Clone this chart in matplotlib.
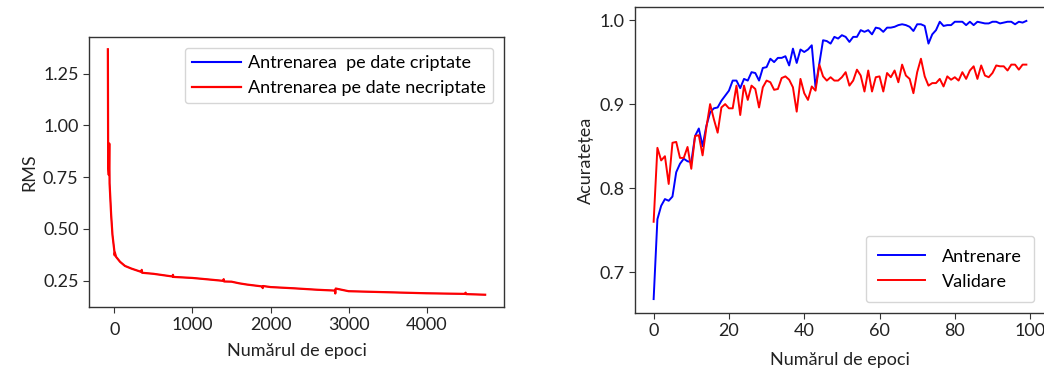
import matplotlib
matplotlib.use("Agg")
import matplotlib.pyplot as plt
from matplotlib.transforms import ScaledTranslation

plt.rcParams['font.family'] = ['Lato', 'DejaVu Sans']
plt.rcParams['font.size'] = 13

# ---- Left chart: RMS vs epochs ----
rms_epochs = [-84, -80, -72, -66, -62, -42, -25, 0, 3, 6, 21, 72, 135, 219, 345, 350, 355,
              500, 745, 750, 755, 1000, 1200, 1395, 1400, 1405, 1500, 1600, 1700, 1895,
              1900, 1905, 2000, 2300, 2600, 2825, 2830, 2835, 3000, 3500, 4000, 4495,
              4500, 4505, 4750]
rms_necriptate = [1.367, 0.80, 0.76, 0.912, 0.72, 0.568, 0.471, 0.390, 0.372, 0.385, 0.365,
                  0.341, 0.321, 0.308, 0.292, 0.302, 0.288, 0.283, 0.270, 0.278, 0.268,
                  0.263, 0.256, 0.249, 0.257, 0.246, 0.245, 0.237, 0.231, 0.222, 0.214,
                  0.224, 0.219, 0.213, 0.206, 0.202, 0.188, 0.212, 0.199, 0.194, 0.189,
                  0.186, 0.192, 0.185, 0.182]
rms_criptate = list(rms_necriptate)
legend_left = ["Antrenarea  pe date criptate", "Antrenarea pe date necriptate"]

# ---- Right chart: accuracy vs epochs ----
acc_epochs = list(range(100))
acc_antrenare = [0.668, 0.763, 0.779, 0.787, 0.785, 0.790, 0.819, 0.829, 0.835, 0.832,
                 0.831, 0.862, 0.871, 0.850, 0.874, 0.890, 0.895, 0.896, 0.904, 0.910,
                 0.916, 0.928, 0.928, 0.919, 0.930, 0.928, 0.938, 0.937, 0.928, 0.943,
                 0.944, 0.954, 0.950, 0.955, 0.955, 0.957, 0.946, 0.966, 0.949, 0.965,
                 0.962, 0.965, 0.970, 0.920, 0.948, 0.976, 0.975, 0.972, 0.980, 0.978,
                 0.982, 0.980, 0.974, 0.980, 0.980, 0.988, 0.986, 0.988, 0.983, 0.991,
                 0.990, 0.986, 0.991, 0.991, 0.992, 0.994, 0.995, 0.994, 0.992, 0.987,
                 0.995, 0.995, 0.993, 0.972, 0.983, 0.988, 0.998, 0.993, 0.994, 0.994,
                 0.998, 0.998, 0.998, 0.994, 0.998, 0.994, 0.998, 0.997, 0.996, 0.996,
                 0.998, 0.998, 0.996, 0.997, 0.998, 0.998, 0.995, 0.998, 0.997, 0.999]
acc_validare = [0.760, 0.848, 0.833, 0.838, 0.805, 0.854, 0.855, 0.836, 0.836, 0.849,
                0.823, 0.862, 0.863, 0.839, 0.872, 0.900, 0.882, 0.866, 0.896, 0.900,
                0.895, 0.895, 0.922, 0.887, 0.922, 0.905, 0.922, 0.918, 0.896, 0.920,
                0.928, 0.926, 0.917, 0.918, 0.931, 0.933, 0.929, 0.920, 0.891, 0.930,
                0.913, 0.905, 0.921, 0.916, 0.947, 0.933, 0.928, 0.932, 0.928, 0.928,
                0.932, 0.938, 0.922, 0.928, 0.941, 0.934, 0.915, 0.940, 0.915, 0.932,
                0.933, 0.915, 0.937, 0.932, 0.940, 0.926, 0.947, 0.934, 0.930, 0.913,
                0.938, 0.954, 0.933, 0.922, 0.925, 0.925, 0.930, 0.921, 0.933, 0.929,
                0.932, 0.928, 0.938, 0.930, 0.940, 0.945, 0.930, 0.946, 0.934, 0.932,
                0.937, 0.946, 0.945, 0.945, 0.940, 0.947, 0.947, 0.941, 0.947, 0.947]
legend_right = ["Antrenare", "Validare"]

xlabel = "Numărul de epoci"

fig = plt.figure(figsize=(10.44, 3.69), dpi=100)
ax1 = fig.add_axes([89/1044, 1-307/369, 415/1044, 270/369])
ax2 = fig.add_axes([635/1044, 1-313/369, 410/1044, 306/369])

for ax in (ax1, ax2):
    for s in ax.spines.values():
        s.set_color('#333333')
        s.set_linewidth(1.0)
    ax.tick_params(colors='#333333', labelcolor='#222222', labelsize=13, length=4)

ax1.plot(rms_epochs, rms_criptate, color='blue', lw=0.8, label=legend_left[0])
ax1.plot(rms_epochs, rms_necriptate, color='red', lw=1.6, label=legend_left[1])
ax1.set_xticks([0, 1000, 2000, 3000, 4000])
ax1.set_yticks([0.25, 0.50, 0.75, 1.00, 1.25])
ax1.set_ylabel("RMS", color='#222222')
ax1.set_xlabel(xlabel, color='#222222', labelpad=3)
leg1 = ax1.legend(loc='upper right', handlelength=2.7, handletextpad=0.4, fontsize=13,
                  borderaxespad=0.6, labelspacing=0.5)
leg1.get_lines()[0].set_linewidth(1.5)

ax2.plot(acc_epochs, acc_antrenare, color='blue', lw=1.4, label=legend_right[0])
ax2.plot(acc_epochs, acc_validare, color='red', lw=1.4, label=legend_right[1])
ax2.set_xticks([0, 20, 40, 60, 80, 100])
ax2.set_yticks([0.7, 0.8, 0.9, 1.0])
ax2.set_ylabel("Acuratețea", color='#222222')
ax2.set_xlabel(xlabel, color='#222222', labelpad=9)
ax2.legend(loc='lower right', handlelength=2.6, handletextpad=0.9, fontsize=13,
           borderaxespad=0.6, labelspacing=0.5, borderpad=0.7)

# the "0" tick label sits slightly lower in the reference
for lbl in ax1.get_xticklabels():
    if lbl.get_text() in ("0",):
        lbl.set_transform(lbl.get_transform() + ScaledTranslation(0, -5/100, fig.dpi_scale_trans))

fig.savefig("out.png", dpi=100)
